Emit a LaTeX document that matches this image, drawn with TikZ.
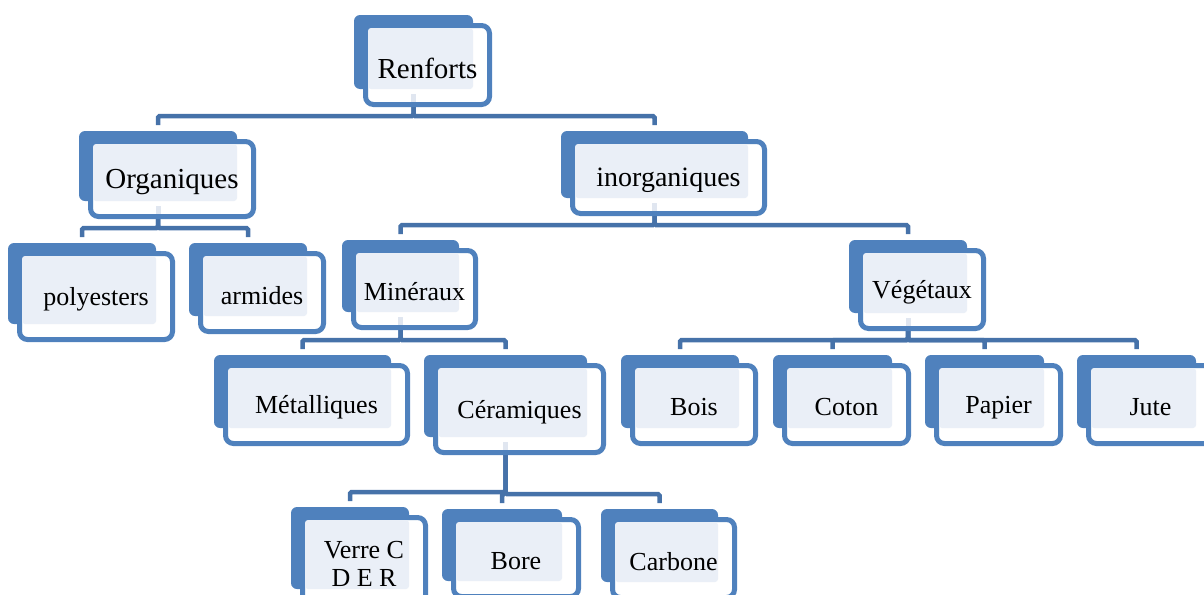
\documentclass[tikz,border=0pt]{standalone}
\usepackage{fontspec}
\setmainfont{Liberation Serif}
\usepackage{tikz}
\usetikzlibrary{backgrounds}
\definecolor{bleu}{HTML}{4F81BD}
\definecolor{bleufonce}{HTML}{4672A9}
\definecolor{clair}{HTML}{EAEFF7}
\definecolor{pale}{HTML}{E0E6F0}
\tikzstyle{bloc}=[fill=bleu, rounded corners=3pt, inner sep=0, outer sep=0]
\tikzstyle{cadre}=[fill=white, draw=bleu, line width=2.5pt, rounded corners=4pt,
                   inner sep=0, outer sep=0]
\tikzstyle{etiq}=[text=black, font=\fontsize{13}{14}\selectfont, align=center, inner sep=0]
\tikzstyle{lien}=[draw=bleufonce, line width=2.25pt, rounded corners=0.8pt]
\tikzstyle{talon}=[draw=pale, line width=2.5pt]
\newcommand{\grand}{\fontsize{14.5}{17}\selectfont}
% #1 nom, #2 x, #3 y, #4 largeur, #5 hauteur, #6 texte
\newcommand{\boite}[6]{
  \node[bloc, minimum width=#4*0.5pt, minimum height=#5*0.5pt] (#1) at (#2,#3) {};
  \node[cadre, minimum width=#4*0.5pt+2.5pt, minimum height=#5*0.5pt+2.5pt]
    (#1-c) at ([shift={(14,13)}]#1.center) {};
  \fill[clair, rounded corners=1.5pt] ([shift={(2.5,2.5)}]#1-c.north west) rectangle (#1.south east);
  \node[etiq] (#1-t) at ([yshift=-1.5pt]#1-c.center) {#6};
}

\begin{document}
\begin{tikzpicture}[x=0.5pt, y=-0.5pt]
\useasboundingbox (0,0) rectangle (1204,594);
\clip (0,0) rectangle (1204,594);
\boite{ren}{413.5}{52}{119}{74}{\grand Renforts}
\boite{org}{158}{166}{158}{70}{\grand Organiques}
\boite{ino}{654.5}{164.5}{187}{67}{\fontsize{14}{17}\selectfont inorganiques}
\boite{pol}{82}{283.5}{148}{81}{polyesters}
\boite{arm}{248}{279.5}{118}{73}{armides}
\boite{min}{400.5}{276}{117}{72}{Minéraux}
\boite{veg}{908}{276.5}{118}{73}{Végétaux}
\boite{met}{302.5}{391.5}{177}{73}{Métalliques}
\boite{cer}{505.5}{396}{163}{82}{Céramiques}
\boite{boi}{680}{391.5}{118}{73}{Bois}
\boite{cot}{832.5}{391.5}{119}{73}{Coton}
\boite{pap}{984.5}{391.5}{119}{73}{Papier}
\boite{jut}{1136.5}{391.5}{119}{73}{Jute}
\boite{ver}{350}{548}{118}{82}{Verre C\\D E R}
\boite{bor}{502}{545}{120}{72}{Bore}
\boite{car}{659.5}{545.5}{117}{73}{Carbone}

% talons clairs sous les parents
\foreach \p in {ren,org,ino,min,veg,cer}
  \draw[talon] ([yshift=-2.5pt]\p.south) -- ([yshift=-6.5pt]\p.south);

\begin{scope}[on background layer]
\foreach \e in {org,ino}
  \draw[lien] (ren) |- ([yshift=7.5pt]\e.north) -- ([yshift=3pt]\e.north);
\foreach \e in {pol,arm}
  \draw[lien] (org) |- ([yshift=7.5pt]\e.north) -- ([yshift=3pt]\e.north);
\foreach \e in {min,veg}
  \draw[lien] (ino) |- ([yshift=7.5pt]\e.north) -- ([yshift=3pt]\e.north);
\foreach \e in {met,cer}
  \draw[lien] (min) |- ([yshift=7.5pt]\e.north) -- ([yshift=3pt]\e.north);
\foreach \e in {boi,cot,pap,jut}
  \draw[lien] (veg) |- ([yshift=7.5pt]\e.north) -- ([yshift=3pt]\e.north);
\foreach \e in {ver,bor,car}
  \draw[lien] (cer) |- ([yshift=7.5pt]\e.north) -- ([yshift=3pt]\e.north);
\end{scope}
\end{tikzpicture}
\end{document}
